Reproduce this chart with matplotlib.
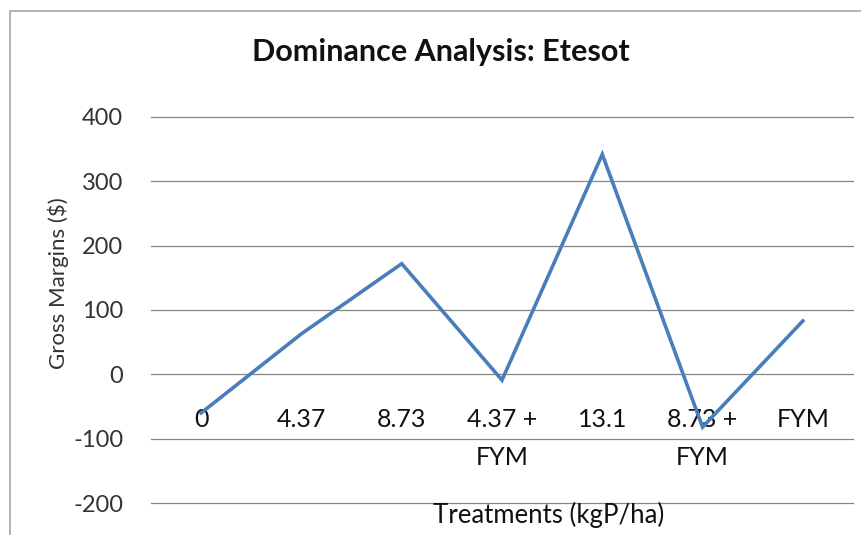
import matplotlib
matplotlib.use("Agg")
import matplotlib.pyplot as plt
from matplotlib.patches import Rectangle

# data
treatments = ["0", "4.37", "8.73", "4.37 +\nFYM", "13.1", "8.73 +\nFYM", "FYM"]
gross_margins = [-60, 63, 172, -9, 342, -82, 83]
y_ticks = [-200, -100, 0, 100, 200, 300, 400]

W, H = 862, 535
plt.rcParams["font.family"] = ["Lato", "DejaVu Sans"]

fig = plt.figure(figsize=(W / 100, H / 100), dpi=100)
fig.patch.set_facecolor("white")

# chart-area border (Excel style), runs off the right/bottom edge
fig.patches.append(Rectangle((10 / W, -0.1), 2.0, (H - 11) / H + 0.1, transform=fig.transFigure,
                             fill=False, edgecolor="#a6a6a6", linewidth=1.2))

left, right, top, bottom = 151, 853, 117, 503
ax = fig.add_axes([left / W, 1 - bottom / H, (right - left) / W, (bottom - top) / H])

x = list(range(len(treatments)))
ax.plot(x, gross_margins, color="#4a7ebb", linewidth=2.6, solid_joinstyle="miter", zorder=3)

ax.set_xlim(-0.5, len(treatments) - 0.5)
ax.set_ylim(-200, 400)
ax.set_yticks(y_ticks)
ax.set_yticklabels([str(v) for v in y_ticks], fontsize=17, color="#333333")
ax.yaxis.grid(True, color="#868686", linewidth=0.9)
for gl in ax.get_ygridlines():
    gl.set_clip_on(False)
ax.set_axisbelow(True)

for s in ["left", "right", "top"]:
    ax.spines[s].set_visible(False)
ax.spines["bottom"].set_position(("data", 0))
ax.spines["bottom"].set_visible(False)

ax.set_xticks(x)
ax.set_xticklabels(treatments, fontsize=18, linespacing=1.8, color="#111111")
ax.tick_params(axis="x", length=0, pad=24)
ax.tick_params(axis="y", length=0, pad=20)

fig.text(441 / W, 1 - 61 / H, "Dominance Analysis: Etesot", ha="center", va="baseline",
         fontsize=22, fontweight="bold", color="#111111")
fig.text(549 / W, 1 - 523 / H, "Treatments (kgP/ha)", ha="center", va="baseline",
         fontsize=18.5, color="#111111")
fig.text(58 / W, 1 - 283 / H, "Gross Margins ($)", ha="center", va="center",
         rotation=90, fontsize=16, color="#333333")

fig.savefig("out.png", dpi=100)
